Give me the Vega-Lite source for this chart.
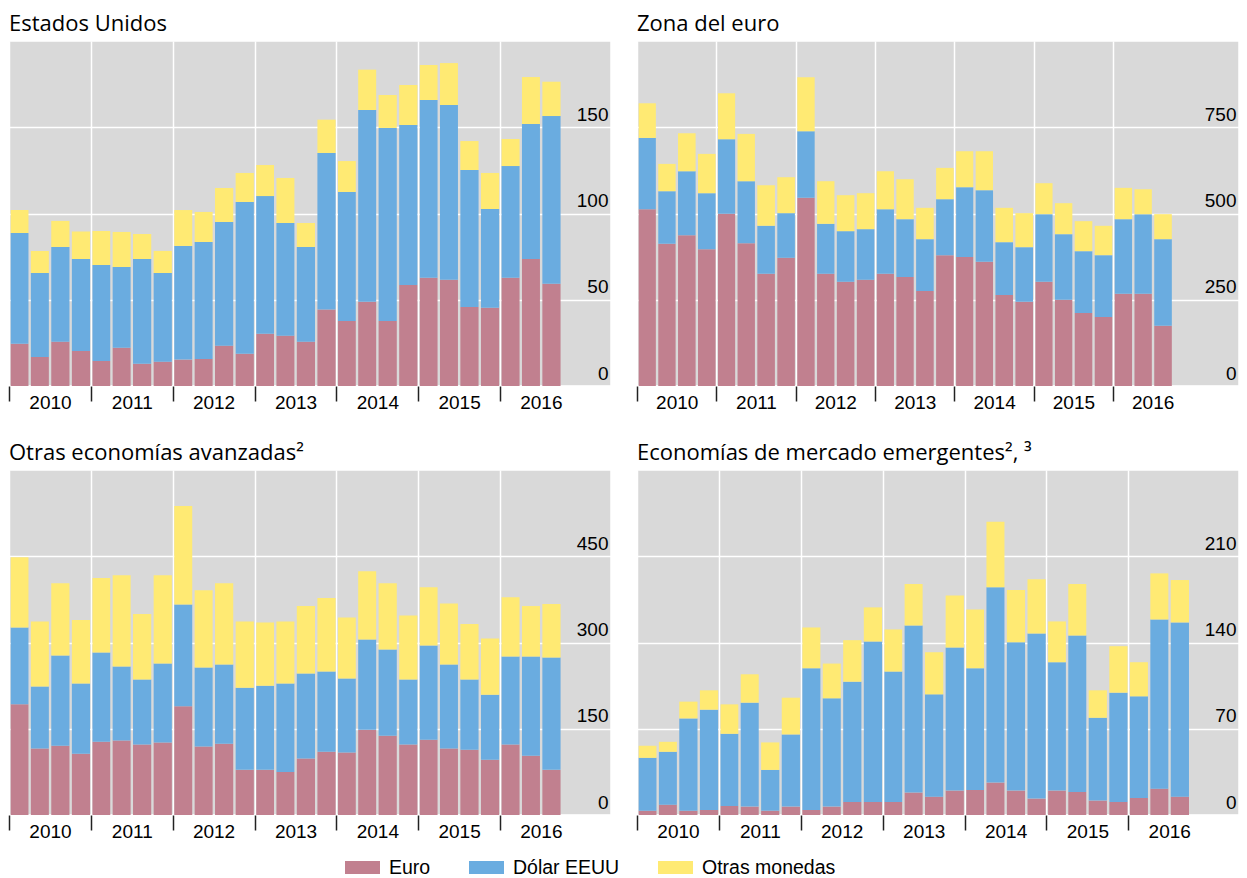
{
  "$schema": "https://vega.github.io/schema/vega-lite/v6.json",
  "padding": {"left": 7, "top": 12, "right": 4, "bottom": 2},
  "datasets": {
    "cats": [
      {"k": "E", "c": "Euro", "o": 1},
      {"k": "D", "c": "Dólar EEUU", "o": 2},
      {"k": "O", "c": "Otras monedas", "o": 3}
    ],
    "d": [
      {"p":"us","q":"2010-01-01","E":24.5,"D":64.2,"O":13.3},
      {"p":"us","q":"2010-04-01","E":16.8,"D":48.7,"O":12.8},
      {"p":"us","q":"2010-07-01","E":25.7,"D":54.9,"O":15.1},
      {"p":"us","q":"2010-10-01","E":20.3,"D":53.3,"O":15.9},
      {"p":"us","q":"2011-01-01","E":14.5,"D":55.6,"O":19.8},
      {"p":"us","q":"2011-04-01","E":22.2,"D":46.8,"O":20.3},
      {"p":"us","q":"2011-07-01","E":12.9,"D":60.7,"O":14.5},
      {"p":"us","q":"2011-10-01","E":14.1,"D":51.4,"O":12.8},
      {"p":"us","q":"2012-01-01","E":15.3,"D":65.9,"O":20.8},
      {"p":"us","q":"2012-04-01","E":15.7,"D":67.8,"O":17.4},
      {"p":"us","q":"2012-07-01","E":23.4,"D":71.7,"O":19.7},
      {"p":"us","q":"2012-10-01","E":18.7,"D":88.0,"O":16.8},
      {"p":"us","q":"2013-01-01","E":30.3,"D":79.8,"O":18.0},
      {"p":"us","q":"2013-04-01","E":29.2,"D":65.3,"O":26.1},
      {"p":"us","q":"2013-07-01","E":25.7,"D":54.9,"O":13.9},
      {"p":"us","q":"2013-10-01","E":44.3,"D":90.8,"O":19.3},
      {"p":"us","q":"2014-01-01","E":37.7,"D":74.8,"O":17.9},
      {"p":"us","q":"2014-04-01","E":48.9,"D":111.1,"O":23.4},
      {"p":"us","q":"2014-07-01","E":37.7,"D":111.9,"O":19.1},
      {"p":"us","q":"2014-10-01","E":58.6,"D":92.7,"O":23.2},
      {"p":"us","q":"2015-01-01","E":62.8,"D":103.0,"O":20.3},
      {"p":"us","q":"2015-04-01","E":61.6,"D":101.3,"O":24.3},
      {"p":"us","q":"2015-07-01","E":45.8,"D":79.4,"O":16.8},
      {"p":"us","q":"2015-10-01","E":45.4,"D":57.2,"O":20.9},
      {"p":"us","q":"2016-01-01","E":62.8,"D":64.7,"O":15.7},
      {"p":"us","q":"2016-04-01","E":73.6,"D":78.3,"O":27.2},
      {"p":"us","q":"2016-07-01","E":59.3,"D":97.2,"O":19.9},

      {"p":"ea","q":"2010-01-01","E":512.5,"D":206.6,"O":100.4},
      {"p":"ea","q":"2010-04-01","E":412.2,"D":152.5,"O":79.1},
      {"p":"ea","q":"2010-07-01","E":437.3,"D":185.3,"O":110.0},
      {"p":"ea","q":"2010-10-01","E":396.7,"D":162.2,"O":113.9},
      {"p":"ea","q":"2011-01-01","E":499.0,"D":216.3,"O":133.2},
      {"p":"ea","q":"2011-04-01","E":414.1,"D":179.5,"O":137.1},
      {"p":"ea","q":"2011-07-01","E":325.3,"D":139.0,"O":117.7},
      {"p":"ea","q":"2011-10-01","E":371.6,"D":129.4,"O":104.2},
      {"p":"ea","q":"2012-01-01","E":545.4,"D":193.0,"O":156.4},
      {"p":"ea","q":"2012-04-01","E":325.3,"D":144.8,"O":123.5},
      {"p":"ea","q":"2012-07-01","E":302.1,"D":146.7,"O":104.3},
      {"p":"ea","q":"2012-10-01","E":307.9,"D":146.7,"O":104.3},
      {"p":"ea","q":"2013-01-01","E":325.3,"D":187.2,"O":110.1},
      {"p":"ea","q":"2013-04-01","E":315.6,"D":168.0,"O":115.8},
      {"p":"ea","q":"2013-07-01","E":275.1,"D":150.6,"O":90.7},
      {"p":"ea","q":"2013-10-01","E":379.3,"D":162.2,"O":90.7},
      {"p":"ea","q":"2014-01-01","E":373.6,"D":202.7,"O":104.2},
      {"p":"ea","q":"2014-04-01","E":360.0,"D":207.6,"O":112.9},
      {"p":"ea","q":"2014-07-01","E":263.5,"D":153.5,"O":99.4},
      {"p":"ea","q":"2014-10-01","E":244.2,"D":158.3,"O":98.5},
      {"p":"ea","q":"2015-01-01","E":302.1,"D":196.0,"O":89.7},
      {"p":"ea","q":"2015-04-01","E":250.0,"D":190.2,"O":89.7},
      {"p":"ea","q":"2015-07-01","E":211.4,"D":179.5,"O":86.9},
      {"p":"ea","q":"2015-10-01","E":199.8,"D":179.5,"O":85.0},
      {"p":"ea","q":"2016-01-01","E":267.4,"D":216.2,"O":90.7},
      {"p":"ea","q":"2016-04-01","E":267.4,"D":230.7,"O":72.4},
      {"p":"ea","q":"2016-07-01","E":174.7,"D":251.0,"O":72.4},

      {"p":"oa","q":"2010-01-01","E":192.4,"D":133.8,"O":122.1},
      {"p":"oa","q":"2010-04-01","E":115.7,"D":107.6,"O":113.3},
      {"p":"oa","q":"2010-07-01","E":120.3,"D":157.0,"O":125.6},
      {"p":"oa","q":"2010-10-01","E":106.4,"D":122.1,"O":110.5},
      {"p":"oa","q":"2011-01-01","E":127.3,"D":155.3,"O":129.6},
      {"p":"oa","q":"2011-04-01","E":129.7,"D":128.4,"O":158.8},
      {"p":"oa","q":"2011-07-01","E":122.7,"D":112.8,"O":113.9},
      {"p":"oa","q":"2011-10-01","E":126.2,"D":137.2,"O":153.5},
      {"p":"oa","q":"2012-01-01","E":189.0,"D":177.3,"O":170.9},
      {"p":"oa","q":"2012-04-01","E":119.2,"D":137.2,"O":134.3},
      {"p":"oa","q":"2012-07-01","E":123.8,"D":137.8,"O":141.3},
      {"p":"oa","q":"2012-10-01","E":78.5,"D":143.0,"O":115.1},
      {"p":"oa","q":"2013-01-01","E":78.5,"D":146.5,"O":109.9},
      {"p":"oa","q":"2013-04-01","E":75.0,"D":153.5,"O":108.1},
      {"p":"oa","q":"2013-07-01","E":98.3,"D":147.6,"O":117.5},
      {"p":"oa","q":"2013-10-01","E":109.9,"D":139.5,"O":127.9},
      {"p":"oa","q":"2014-01-01","E":108.7,"D":128.5,"O":106.4},
      {"p":"oa","q":"2014-04-01","E":148.3,"D":156.9,"O":118.6},
      {"p":"oa","q":"2014-07-01","E":137.8,"D":150.0,"O":115.1},
      {"p":"oa","q":"2014-10-01","E":122.7,"D":112.8,"O":111.6},
      {"p":"oa","q":"2015-01-01","E":130.8,"D":164.0,"O":101.1},
      {"p":"oa","q":"2015-04-01","E":115.7,"D":145.9,"O":106.4},
      {"p":"oa","q":"2015-07-01","E":113.4,"D":122.1,"O":96.5},
      {"p":"oa","q":"2015-10-01","E":95.9,"D":113.4,"O":97.7},
      {"p":"oa","q":"2016-01-01","E":122.7,"D":152.9,"O":102.9},
      {"p":"oa","q":"2016-04-01","E":102.9,"D":172.7,"O":87.8},
      {"p":"oa","q":"2016-07-01","E":78.5,"D":195.3,"O":93.1},

      {"p":"em","q":"2010-01-01","E":3.5,"D":42.9,"O":9.8},
      {"p":"em","q":"2010-04-01","E":8.4,"D":42.9,"O":8.1},
      {"p":"em","q":"2010-07-01","E":3.5,"D":74.9,"O":13.6},
      {"p":"em","q":"2010-10-01","E":4.1,"D":81.4,"O":15.7},
      {"p":"em","q":"2011-01-01","E":7.3,"D":58.6,"O":23.9},
      {"p":"em","q":"2011-04-01","E":6.8,"D":84.4,"O":23.0},
      {"p":"em","q":"2011-07-01","E":3.5,"D":33.1,"O":22.3},
      {"p":"em","q":"2011-10-01","E":6.8,"D":58.6,"O":29.8},
      {"p":"em","q":"2012-01-01","E":4.1,"D":115.0,"O":33.1},
      {"p":"em","q":"2012-04-01","E":6.8,"D":87.9,"O":28.2},
      {"p":"em","q":"2012-07-01","E":10.6,"D":97.6,"O":33.7},
      {"p":"em","q":"2012-10-01","E":10.6,"D":130.2,"O":27.7},
      {"p":"em","q":"2013-01-01","E":10.6,"D":105.8,"O":34.2},
      {"p":"em","q":"2013-04-01","E":18.2,"D":135.6,"O":33.7},
      {"p":"em","q":"2013-07-01","E":14.9,"D":83.0,"O":34.2},
      {"p":"em","q":"2013-10-01","E":19.8,"D":116.1,"O":42.3},
      {"p":"em","q":"2014-01-01","E":20.3,"D":98.8,"O":47.7},
      {"p":"em","q":"2014-04-01","E":26.3,"D":158.5,"O":53.1},
      {"p":"em","q":"2014-07-01","E":19.8,"D":120.5,"O":42.3},
      {"p":"em","q":"2014-10-01","E":13.3,"D":134.0,"O":44.0},
      {"p":"em","q":"2015-01-01","E":19.8,"D":104.2,"O":33.1},
      {"p":"em","q":"2015-04-01","E":18.7,"D":127.0,"O":41.8},
      {"p":"em","q":"2015-07-01","E":11.7,"D":67.2,"O":22.3},
      {"p":"em","q":"2015-10-01","E":10.6,"D":88.7,"O":37.7},
      {"p":"em","q":"2016-01-01","E":13.8,"D":82.5,"O":27.7},
      {"p":"em","q":"2016-04-01","E":21.4,"D":137.3,"O":37.4},
      {"p":"em","q":"2016-07-01","E":14.9,"D":141.4,"O":34.4}
    ]
  },
  "data": {"name": "d"},
  "transform": [
    {"fold": ["E", "D", "O"], "as": ["k", "v"]},
    {"lookup": "k", "from": {"data": {"name": "cats"}, "key": "k", "fields": ["c", "o"]}}
  ],
  "columns": 2,
  "spacing": {"row": 28, "column": 23},
  "concat": [
    {
      "title": "Estados Unidos",
      "width": 602, "height": 345,
      "transform": [{"filter": "datum.p === 'us'"}],
      "mark": {"type": "bar"},
      "encoding": {
        "x": {"field": "q", "timeUnit": "utcyearquarter", "type": "temporal", "title": null,
          "scale": {"domain": [{"year": 2010, "month": 1, "date": 1, "utc": true}, {"year": 2017, "month": 5, "date": 11, "utc": true}], "nice": false, "padding": 0},
          "axis": {"values": [{"year": 2010, "month": 1, "date": 1, "utc": true}, {"year": 2011, "month": 1, "date": 1, "utc": true}, {"year": 2012, "month": 1, "date": 1, "utc": true}, {"year": 2013, "month": 1, "date": 1, "utc": true}, {"year": 2014, "month": 1, "date": 1, "utc": true}, {"year": 2015, "month": 1, "date": 1, "utc": true}, {"year": 2016, "month": 1, "date": 1, "utc": true}],
            "format": "%Y", "labelOffset": 41}},
        "y": {"field": "v", "type": "quantitative", "stack": "zero", "title": null,
          "scale": {"domain": [0, 200], "nice": false},
          "axis": {"orient": "right", "values": [0, 50, 100, 150]}},
        "color": {"field": "c", "type": "nominal", "scale": {"domain": ["Euro", "Dólar EEUU", "Otras monedas"], "range": ["#C1808F", "#6AACE0", "#FFEA73"]}},
        "order": {"field": "o"}
      }
    },
    {
      "title": "Zona del euro",
      "width": 602, "height": 345,
      "transform": [{"filter": "datum.p === 'ea'"}],
      "mark": {"type": "bar"},
      "encoding": {
        "x": {"field": "q", "timeUnit": "utcyearquarter", "type": "temporal", "title": null,
          "scale": {"domain": [{"year": 2010, "month": 1, "date": 1, "utc": true}, {"year": 2017, "month": 8, "date": 3, "utc": true}], "nice": false, "padding": 0},
          "axis": {"values": [{"year": 2010, "month": 1, "date": 1, "utc": true}, {"year": 2011, "month": 1, "date": 1, "utc": true}, {"year": 2012, "month": 1, "date": 1, "utc": true}, {"year": 2013, "month": 1, "date": 1, "utc": true}, {"year": 2014, "month": 1, "date": 1, "utc": true}, {"year": 2015, "month": 1, "date": 1, "utc": true}, {"year": 2016, "month": 1, "date": 1, "utc": true}],
            "format": "%Y", "labelOffset": 39.7}},
        "y": {"field": "v", "type": "quantitative", "stack": "zero", "title": null,
          "scale": {"domain": [0, 1000], "nice": false},
          "axis": {"orient": "right", "values": [0, 250, 500, 750]}},
        "color": {"field": "c", "type": "nominal", "scale": {"domain": ["Euro", "Dólar EEUU", "Otras monedas"], "range": ["#C1808F", "#6AACE0", "#FFEA73"]}},
        "order": {"field": "o"}
      }
    },
    {
      "title": "Otras economías avanzadas²",
      "width": 602, "height": 345,
      "transform": [{"filter": "datum.p === 'oa'"}],
      "mark": {"type": "bar"},
      "encoding": {
        "x": {"field": "q", "timeUnit": "utcyearquarter", "type": "temporal", "title": null,
          "scale": {"domain": [{"year": 2010, "month": 1, "date": 1, "utc": true}, {"year": 2017, "month": 5, "date": 11, "utc": true}], "nice": false, "padding": 0},
          "axis": {"values": [{"year": 2010, "month": 1, "date": 1, "utc": true}, {"year": 2011, "month": 1, "date": 1, "utc": true}, {"year": 2012, "month": 1, "date": 1, "utc": true}, {"year": 2013, "month": 1, "date": 1, "utc": true}, {"year": 2014, "month": 1, "date": 1, "utc": true}, {"year": 2015, "month": 1, "date": 1, "utc": true}, {"year": 2016, "month": 1, "date": 1, "utc": true}],
            "format": "%Y", "labelOffset": 41}},
        "y": {"field": "v", "type": "quantitative", "stack": "zero", "title": null,
          "scale": {"domain": [0, 600], "nice": false},
          "axis": {"orient": "right", "values": [0, 150, 300, 450]}},
        "color": {"field": "c", "type": "nominal", "scale": {"domain": ["Euro", "Dólar EEUU", "Otras monedas"], "range": ["#C1808F", "#6AACE0", "#FFEA73"]}},
        "order": {"field": "o"}
      }
    },
    {
      "title": "Economías de mercado emergentes², ³",
      "width": 602, "height": 345,
      "transform": [{"filter": "datum.p === 'em'"}],
      "mark": {"type": "bar"},
      "encoding": {
        "x": {"field": "q", "timeUnit": "utcyearquarter", "type": "temporal", "title": null,
          "scale": {"domain": [{"year": 2010, "month": 1, "date": 1, "utc": true}, {"year": 2017, "month": 5, "date": 9, "utc": true}], "nice": false, "padding": 0},
          "axis": {"values": [{"year": 2010, "month": 1, "date": 1, "utc": true}, {"year": 2011, "month": 1, "date": 1, "utc": true}, {"year": 2012, "month": 1, "date": 1, "utc": true}, {"year": 2013, "month": 1, "date": 1, "utc": true}, {"year": 2014, "month": 1, "date": 1, "utc": true}, {"year": 2015, "month": 1, "date": 1, "utc": true}, {"year": 2016, "month": 1, "date": 1, "utc": true}],
            "format": "%Y", "labelOffset": 41}},
        "y": {"field": "v", "type": "quantitative", "stack": "zero", "title": null,
          "scale": {"domain": [0, 280], "nice": false},
          "axis": {"orient": "right", "values": [0, 70, 140, 210]}},
        "color": {"field": "c", "type": "nominal", "scale": {"domain": ["Euro", "Dólar EEUU", "Otras monedas"], "range": ["#C1808F", "#6AACE0", "#FFEA73"]}},
        "order": {"field": "o"}
      }
    }
  ],
  "resolve": {"scale": {"color": "shared"}},
  "config": {
    "view": {"fill": "#D9D9D9", "stroke": "white", "strokeWidth": 1.5},
    "bar": {"binSpacing": 2.4},
    "axis": {"labelFont": "Liberation Sans", "labelFontSize": 19, "labelColor": "#000000", "domain": false, "grid": true, "gridColor": "#FFFFFF", "gridWidth": 1.5, "gridOpacity": 1, "labelOverlap": false, "labelBound": false, "labelFlush": false},
    "axisX": {"tickSize": 15, "tickColor": "#222222", "tickWidth": 1.5, "labelPadding": 7, "labelBaseline": "alphabetic", "labelAlign": "center"},
    "axisY": {"ticks": false, "labelAlign": "right", "labelPadding": -3, "labelBaseline": "alphabetic", "labelOffset": -7},
    "title": {"anchor": "start", "frame": "group", "font": "Open Sans", "fontSize": 22, "fontWeight": "normal", "color": "#000000", "baseline": "alphabetic", "offset": 5},
    "legend": {"orient": "none", "legendX": 336, "legendY": 809, "direction": "horizontal", "columns": 3, "columnPadding": 38, "title": null, "symbolType": "M-1,-0.371H1V0.371H-1Z", "symbolSize": 1225, "symbolStrokeWidth": 0, "symbolOpacity": 1, "labelFont": "Liberation Sans", "labelFontSize": 19.5, "labelOffset": 9, "labelColor": "#000000", "padding": 0}
  }
}
